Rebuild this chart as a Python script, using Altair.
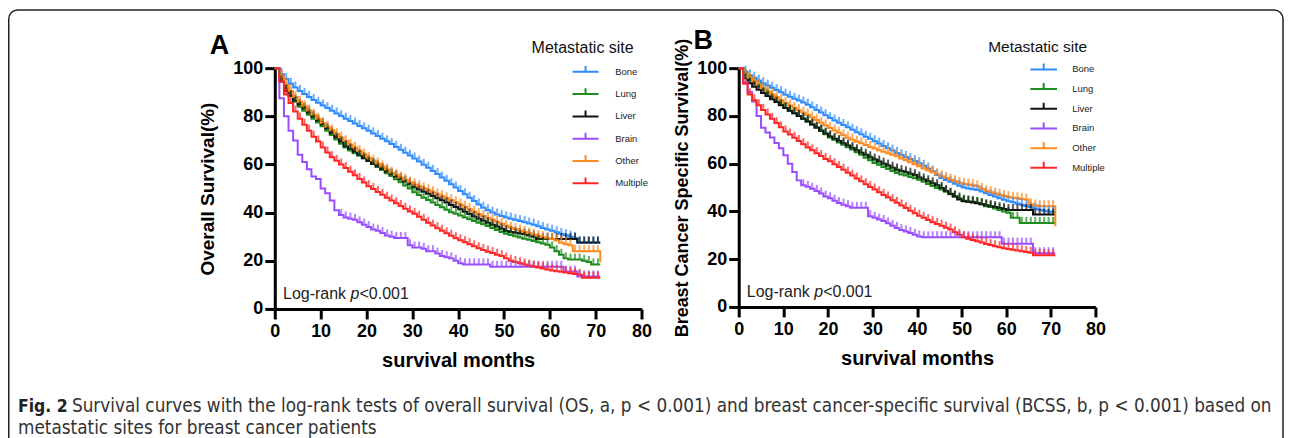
import altair as alt
import pandas as pd

months = list(range(72))
sites = ["Bone", "Lung", "Liver", "Brain", "Other", "Multiple"]
colors = ["#2f8cff", "#1e8c1e", "#111111", "#9a4dff", "#ff8a1f", "#ff2626"]

# Panel A: overall survival (%), one value per month 0..71
os_bone = [100, 97.5, 95.5, 93.5, 92, 90.5, 89.3, 88, 86.8, 85.6,
           84.5, 83.4, 82.3, 81.2, 80.1, 79, 78, 77, 76, 75,
           74, 72.9, 71.8, 70.7, 69.6, 68.5, 67.3, 66.1, 64.9, 63.7,
           62.5, 61.2, 59.9, 58.6, 57.3, 56, 54.6, 53.2, 51.8, 50.4,
           49, 47.6, 46.2, 44.8, 43.4, 42, 41, 40, 39.2, 38.6,
           38, 37.5, 37, 36.5, 36, 35.5, 35, 34.3, 33.6, 33,
           32.5, 31.8, 31.2, 30.6, 30, 29.5, 27.5, 27.5, 27.5, 27.5,
           27.5, 27.5]
os_lung = [100, 95.5, 91.5, 88.5, 86, 84, 82.3, 80.6, 79, 77.4,
           75.9, 74, 72.2, 70.4, 68.6, 67, 65.8, 64.7, 63.6, 62.5,
           61.4, 60.2, 59, 57.7, 56.4, 55.2, 53.9, 52.6, 51.3, 50,
           48.5, 47.3, 46.2, 45.2, 44.2, 43.2, 42.2, 41.2, 40.2, 39.5,
           38.8, 38, 37.2, 36.5, 35.8, 35.2, 34.4, 33.6, 32.8, 32,
           31.2, 30.7, 30.2, 29.7, 29.2, 28.7, 28.2, 27.7, 27.2, 26.7,
           25.5, 24, 22.5, 21, 20.5, 20.5, 20.5, 20, 19.5, 18.5,
           18.5, 18.5]
os_liver = [100, 94.5, 90.5, 88.5, 86.5, 84.8, 83.2, 81.5, 79.8, 78.2,
            76.6, 74.8, 73, 71.2, 69.4, 67.6, 66.4, 65.2, 64, 62.7,
            61.4, 60.3, 59.2, 58.1, 57, 55.9, 54.9, 53.9, 52.9, 51.9,
            50.5, 49.6, 48.7, 47.8, 46.9, 46, 45.1, 44.2, 43.2, 42.3,
            41.4, 40.4, 39.4, 38.4, 37.5, 36.6, 35.8, 35, 34.2, 33.3,
            32.4, 32, 31.6, 31.3, 31, 30.5, 30, 29, 29, 29,
            29, 29, 29, 29, 29, 29, 27.6, 27.6, 27.6, 27.6,
            27.6, 27.6]
os_brain = [100, 87.5, 80, 74, 70, 64, 61, 58, 55, 54,
            50, 48, 45, 41, 39, 38, 37.5, 37, 36, 35,
            34, 33, 32.5, 31.5, 30.5, 30, 29.5, 29.5, 29.5, 26.5,
            25.5, 25.5, 25, 24, 24, 23, 22, 21.5, 21, 20,
            19, 18.5, 18.5, 18.5, 18.5, 18.5, 18.5, 17.5, 17.5, 17.5,
            17.5, 17.5, 17.5, 17.5, 17.5, 17.5, 17.5, 17.5, 17.5, 17.5,
            17.5, 17.5, 17.5, 15.5, 15.5, 15.5, 13.5, 13.5, 13.5, 13.5,
            13.5, 13.5]
os_other = [100, 96.5, 93, 90.5, 88, 86, 84.2, 82.4, 80.6, 78.9,
            77.2, 75.7, 74.2, 72.7, 71.2, 69.7, 68.3, 67, 65.6, 64.2,
            62.8, 61.6, 60.4, 59.2, 57.9, 56.6, 55.6, 54.6, 53.6, 52.6,
            51.7, 50.9, 50.1, 49.3, 48.5, 47.6, 46.8, 46, 45.2, 44.3,
            43.4, 42.4, 41.4, 40.4, 39.4, 38.6, 37.8, 37, 36.2, 35.4,
            34.5, 33.8, 33.2, 32.6, 32, 31.4, 30.8, 30.3, 29.8, 29.4,
            29, 28.4, 27.5, 26.9, 26.5, 24, 24, 24, 24, 24,
            24, 19.5]
os_multiple = [100, 94.5, 89, 85.5, 82, 79, 76.5, 74, 71.5, 69.5,
               67, 65, 63, 61.5, 60, 58.5, 57, 55.5, 54, 52.5,
               51, 49.8, 48.6, 47.4, 46.2, 45, 43.9, 42.8, 41.6, 40.5,
               39.5, 38.3, 37, 35.8, 34.6, 33.5, 32.5, 31.4, 30.4, 29.4,
               28.5, 27.7, 26.9, 26, 25.2, 24.5, 23.8, 23.2, 22.5, 22,
               21, 20, 19.5, 19, 18.5, 18, 17.6, 17.2, 16.8, 16.4,
               16, 15.7, 15.4, 15.1, 14.8, 14.5, 14.2, 13, 13, 13,
               13, 13]

# Panel B: breast cancer specific survival (%)
bcss_bone = [100, 98.5, 97, 96, 94.8, 93.7, 92.7, 91.8, 90.8, 89.9,
             88.9, 88, 87.2, 86.4, 85.6, 84.7, 83.6, 82.5, 81.4, 80.3,
             79.1, 78.1, 77.1, 76.2, 75.2, 74.2, 73.2, 72.3, 71.3, 70.4,
             69.4, 68.4, 67.4, 66.5, 65.5, 64.5, 63.6, 62.8, 61.9, 61.1,
             60.2, 59.1, 58, 56.8, 55.2, 54, 53.2, 52.4, 51.6, 50.8,
             50, 49.6, 49.3, 49, 48.3, 47.6, 46.9, 46.2, 45.5, 44.9,
             44.3, 43.8, 43.3, 42.8, 42.3, 41.8, 41.2, 40.7, 40.3, 40,
             39.8, 39.8]
bcss_lung = [100, 97.2, 95, 93.6, 92.3, 91, 89.4, 87.9, 86.3, 84.8,
             83.3, 82.2, 81.1, 80, 78.8, 77.7, 76.4, 75, 73.7, 72.3,
             71, 70, 68.9, 67.9, 66.9, 65.9, 64.8, 63.7, 62.5, 61.4,
             60.3, 59.5, 58.6, 57.8, 56.9, 56.1, 55.5, 55, 54.4, 53.9,
             53.3, 52.4, 51.5, 50.6, 49.8, 49.2, 48.2, 47.2, 46.2, 45.5,
             44.5, 44.2, 44, 43.6, 43, 42.2, 41.8, 41.2, 40.6, 40,
             39.4, 37.3, 37.3, 35.2, 35.2, 35.2, 35.2, 35.2, 35.2, 35.2,
             35.2, 35.2]
bcss_liver = [100, 95.8, 93.7, 92.2, 90.9, 89.6, 88.3, 87, 85.8, 84.5,
              83.3, 82.2, 81.1, 80, 78.8, 77.7, 76.4, 75.1, 73.9, 72.6,
              71.4, 70.4, 69.5, 68.5, 67.6, 66.6, 65.6, 64.6, 63.7, 62.7,
              61.7, 60.9, 60, 59.2, 58.3, 57.5, 56.9, 56.4, 55.8, 55.2,
              54.2, 53.4, 52.6, 51.8, 51, 49.8, 48.6, 47.4, 46.2, 45,
              44.3, 44, 43.7, 43.4, 43, 42.6, 42.2, 41.8, 41.4, 41,
              40.6, 40.6, 40.6, 40.6, 40.6, 40.6, 38.7, 38.7, 38.7, 38.7,
              38.7, 38.7]
bcss_brain = [100, 94, 90, 86, 80, 75, 73, 71, 68.7, 66.5,
              63.5, 60, 56.5, 53, 51, 50.3, 49.5, 48.6, 47.5, 46.2,
              45.5, 44.5, 43.5, 42.8, 42.2, 41.5, 41.5, 41.5, 41.5, 38,
              37.3, 36.6, 36, 35, 34, 33.1, 32.2, 31.6, 31, 30.2,
              29.5, 29.2, 29.2, 29.2, 29.2, 29.2, 29.2, 29.2, 29.2, 29.2,
              29.2, 29.2, 29.2, 29.2, 29.2, 29.2, 29.2, 29.2, 29.2, 26.5,
              26.5, 26.5, 26.5, 26.5, 26.5, 26.5, 22.5, 22.5, 22.5, 22.5,
              22.5, 22.5]
bcss_other = [100, 97.5, 96, 94.5, 93, 91.6, 90.3, 89, 87.8, 86.6,
              85.4, 84.4, 83.4, 82.4, 81.4, 80.5, 79.4, 78.3, 77.1, 76,
              74.9, 73.9, 72.9, 71.9, 70.9, 70, 69.2, 68.5, 67.8, 67,
              66.3, 65.6, 65, 64.4, 63.7, 63.1, 62.2, 61.4, 60.6, 59.8,
              58.9, 58, 57.2, 56.4, 55.6, 54.7, 54, 53.3, 52.6, 52,
              51.5, 51.3, 51, 50.5, 49.5, 48.5, 48, 47.5, 47, 46.5,
              46, 45.7, 45.5, 45.2, 45, 43, 42.5, 42.2, 42.2, 42.2,
              42.2, 33.8]
bcss_multiple = [100, 93.5, 89, 86.5, 84.5, 82.5, 80.6, 78.8, 77, 75.2,
                 73.5, 72.2, 70.9, 69.5, 68.1, 66.8, 65.6, 64.4, 63.2, 62,
                 61, 59.8, 58.6, 57.4, 56.2, 55, 53.8, 52.6, 51.4, 50.2,
                 49.2, 48, 46.9, 45.8, 44.7, 43.6, 42.5, 41.4, 40.3, 39.2,
                 38.2, 37.3, 36.4, 35.5, 34.7, 34, 33.2, 32.4, 31.3, 30.2,
                 29.2, 28.6, 28, 27.5, 27, 26.4, 25.9, 25.4, 25, 24.6,
                 24.3, 24, 23.6, 23.3, 23, 22.7, 21.6, 21.6, 21.6, 21.6,
                 21.6, 21.6]

x_ticks = [0, 10, 20, 30, 40, 50, 60, 70, 80]
y_ticks = [0, 20, 40, 60, 80, 100]

caption_bold = "Fig. 2"
caption_line1 = ("Survival curves with the log-rank tests of overall survival (OS, a, p < 0.001) "
                 "and breast cancer-specific survival (BCSS, b, p < 0.001) based on")
caption_line2 = "metastatic sites for breast cancer patients"

FONT = "Liberation Sans, Arial, sans-serif"
CAPFONT = "Liberation Sans Narrow, DejaVu Sans Condensed, Liberation Sans, sans-serif"


def long_table(series):
    rows = []
    for s, vals in zip(sites, series):
        for m, v in zip(months, vals):
            rows.append({"site": s, "month": m, "surv": v})
    return pd.DataFrame(rows)


def panel(series, width, height, ytitle, ytitle_x, ytitle_size, letter, letter_xy,
          legend_x, legend_y, legend_size, label_offset, row_pad, title_xy, title_size,
          logrank_xy):
    df = long_table(series)
    tk = df[(df.month >= 1) & (df.month <= 70)].copy()
    tk = tk[~((tk.site == "Brain") & (tk.month < 14))]
    tk["tm"] = tk["month"] + 0.5

    color_scale = alt.Scale(domain=sites, range=colors)
    xaxis = alt.Axis(values=x_ticks, title="survival months", grid=False,
                     domainWidth=3, domainColor="#000", tickWidth=3, tickColor="#000",
                     tickSize=10, labelFont=FONT, labelFontWeight="bold", labelFontSize=18,
                     labelColor="#000", labelPadding=4, labelFlush=False,
                     titleFont=FONT, titleFontWeight="bold", titleFontSize=20, titleColor="#000",
                     titleY=58, titleBaseline="alphabetic")
    yaxis = alt.Axis(values=y_ticks, title=ytitle, grid=False,
                     domainWidth=3, domainColor="#000", tickWidth=3, tickColor="#000",
                     tickSize=10, labelFont=FONT, labelFontWeight="bold", labelFontSize=18,
                     labelColor="#000", labelPadding=2, labelFlush=False,
                     titleFont=FONT, titleFontWeight="bold", titleFontSize=ytitle_size,
                     titleColor="#000", titleX=ytitle_x, titleY=height / 2,
                     titleAngle=270, titleAlign="center", titleBaseline="alphabetic")
    xs = alt.Scale(domain=[0, 80], nice=False)
    ys = alt.Scale(domain=[0, 100], nice=False)

    lines = alt.Chart(df).mark_line(interpolate="step-after", strokeWidth=2).encode(
        x=alt.X("month:Q", scale=xs, axis=xaxis),
        y=alt.Y("surv:Q", scale=ys, axis=yaxis),
        color=alt.Color("site:N", scale=color_scale, sort=sites,
                        legend=alt.Legend(orient="none", legendX=legend_x, legendY=legend_y,
                                          title=None, symbolType="M-1,0L1,0M0,0L0,-0.45",
                                          symbolSize=legend_size, symbolStrokeWidth=2,
                                          labelFont=FONT, labelFontSize=9.5, labelColor="#222",
                                          labelOffset=label_offset, clipHeight=14,
                                          rowPadding=row_pad, padding=0, offset=0)),
    )
    ticks = alt.Chart(tk).mark_tick(orient="vertical", size=6, thickness=2, yOffset=-3).encode(
        x="tm:Q", y="surv:Q",
        color=alt.Color("site:N", scale=color_scale, legend=None),
    )
    lr = pd.DataFrame({"x": [logrank_xy[0]], "y": [logrank_xy[1]]})
    t1 = alt.Chart(lr).mark_text(align="left", baseline="middle", font=FONT, fontSize=16,
                                 color="#222", text="Log-rank").encode(x="x:Q", y="y:Q")
    t2 = alt.Chart(lr).mark_text(align="left", baseline="middle", font=FONT, fontSize=16,
                                 fontStyle="italic", color="#222", text="p", dx=67.6).encode(x="x:Q", y="y:Q")
    t3 = alt.Chart(lr).mark_text(align="left", baseline="middle", font=FONT, fontSize=16,
                                 color="#222", text="<0.001", dx=76.5).encode(x="x:Q", y="y:Q")
    let = alt.Chart(lr).mark_text(align="left", baseline="alphabetic", font=FONT, fontSize=27,
                                  fontWeight="bold", color="#000", text=letter).encode(
        x=alt.value(letter_xy[0]), y=alt.value(letter_xy[1]))
    ltitle = alt.Chart(lr).mark_text(align="left", baseline="alphabetic", font=FONT,
                                     fontSize=title_size, color="#111", text="Metastatic site").encode(
        x=alt.value(title_xy[0]), y=alt.value(title_xy[1]))
    layers = [lines, ticks, t1, t2, t3, let, ltitle]
    return layers


layers_a = panel([os_bone, os_lung, os_liver, os_brain, os_other, os_multiple],
                 367, 241, "Overall Survival(%)", -61.5, 19, "A", (-65, -13.7),
                 297, -3.3, 676, 15.7, 8.3, (257, -15.5), 16, (1.8, 6.2))
layers_b = panel([bcss_bone, bcss_lung, bcss_liver, bcss_brain, bcss_other, bcss_multiple],
                 357, 239, "Breast Cancer Specific Survival(%)", -51.5, 18, "B", (-45.3, -18.7),
                 290.7, -5.7, 713, 14, 5.7, (249.7, -16), 15.5, (1.8, 6.4))

dummy = pd.DataFrame({"x": [0]})
frame = alt.Chart(dummy).mark_rect(fill="transparent", stroke="#222", strokeWidth=1.5,
                                   cornerRadius=9).encode(
    x=alt.value(-266.25), x2=alt.value(1009), y=alt.value(-58.3), y2=alt.value(400))
cap1 = alt.Chart(dummy).mark_text(align="left", baseline="alphabetic", font=CAPFONT, fontSize=17.5,
                                  fontWeight="bold", color="#222", text=caption_bold).encode(
    x=alt.value(-257), y=alt.value(344))
cap2 = alt.Chart(dummy).mark_text(align="left", baseline="alphabetic", font=CAPFONT, fontSize=18.8,
                                  color="#333", text=caption_line1, dx=54).encode(
    x=alt.value(-257), y=alt.value(344))
cap3 = alt.Chart(dummy).mark_text(align="left", baseline="alphabetic", font=CAPFONT, fontSize=18.8,
                                  color="#333", text=caption_line2).encode(
    x=alt.value(-257), y=alt.value(366))

panel_a = alt.layer(*layers_a, frame, cap1, cap2, cap3).properties(width=367, height=241)
panel_b = alt.layer(*layers_b).properties(width=357, height=239)

chart = alt.hconcat(panel_a, panel_b, spacing=97.3, bounds="flush").resolve_scale(
    color="independent").properties(padding=0).configure_view(stroke=None)

chart.save("out.html", embed_options={"renderer": "svg", "actions": False})
